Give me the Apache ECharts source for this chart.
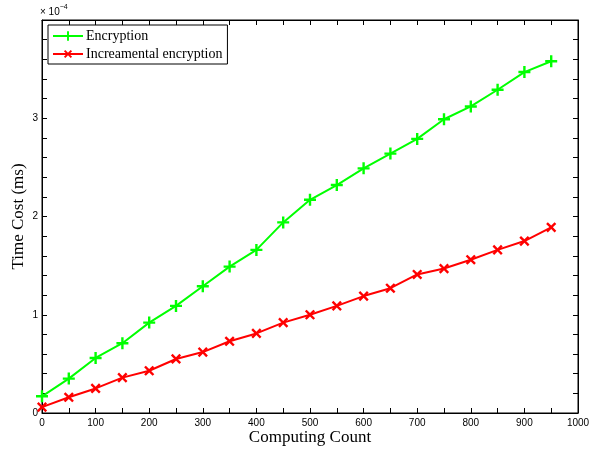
<!DOCTYPE html>
<html><head><meta charset="utf-8">
<script src="https://cdn.jsdelivr.net/npm/echarts@6/dist/echarts.min.js"></script>
<style>html,body{margin:0;padding:0;background:#fff}#c{width:601px;height:450px}</style>
</head><body><div id="c"></div>
<script>
// values in units of 1e-4 ms
const counts = [0,50,100,150,200,250,300,350,400,450,500,550,600,650,700,750,800,850,900,950];
const encryption = [0.17,0.35,0.56,0.71,0.92,1.09,1.29,1.49,1.66,1.94,2.17,2.32,2.49,2.64,2.79,2.99,3.12,3.29,3.47,3.58];
const incremental = [0.06,0.16,0.25,0.36,0.43,0.55,0.62,0.73,0.81,0.92,1.00,1.09,1.19,1.27,1.41,1.47,1.56,1.66,1.75,1.89];
const seriesNames = ['Encryption','Increamental encryption'];

const plusPath = 'path://M4,0h2v4h4v2h-4v4h-2v-4h-4v-2h4z';
const serif = '"Liberation Serif","DejaVu Serif",serif';
const sans = '"Liberation Sans",Arial,sans-serif';

const chart = echarts.init(document.getElementById('c'));
const axisCommon = {
  axisLine:{show:true,onZero:false,lineStyle:{color:'#000',width:1}},
  axisTick:{show:true,inside:true,length:5,lineStyle:{color:'#000'}},
  splitLine:{show:false}
};
chart.setOption({
  animation:false,
  grid:{left:42,right:23,top:20,bottom:37,show:true,borderColor:'#000',borderWidth:1,
    containLabel:false,outerBoundsMode:'none'},
  legend:{
    orient:'vertical',left:48,top:25,
    data:seriesNames,
    backgroundColor:'#fff',borderColor:'#000',borderWidth:1,
    padding:[4,5,3,4],itemGap:4,itemWidth:30,itemHeight:12,
    textStyle:{fontFamily:serif,fontSize:14,color:'#000',padding:[0,0,0,-2]}
  },
  xAxis:[
    Object.assign({type:'value',min:0,max:1000,interval:50,position:'bottom',
      axisLabel:{fontFamily:sans,fontSize:10,color:'#000',margin:5,
        formatter:v=> v%100===0 ? String(v) : ''},
      name:'Computing Count',nameLocation:'middle',nameGap:16,nameMoveOverlap:false,
      nameTextStyle:{fontFamily:serif,fontSize:17,color:'#000'}},axisCommon),
    Object.assign({type:'value',min:0,max:1000,interval:50,position:'top',
      axisLabel:{show:false}},axisCommon)
  ],
  yAxis:[
    Object.assign({type:'value',min:0,max:4,interval:0.2,position:'left',
      axisLabel:{fontFamily:sans,fontSize:10,color:'#000',margin:4,
        formatter:v=> (Math.abs(v-Math.round(v))<1e-6 && v<4) ? String(Math.round(v)) : ''},
      name:'Time Cost (ms)',nameLocation:'middle',nameGap:15,nameMoveOverlap:false,
      nameTextStyle:{fontFamily:serif,fontSize:17,color:'#000'}},axisCommon),
    Object.assign({type:'value',min:0,max:4,interval:0.2,position:'right',
      axisLabel:{show:false}},axisCommon)
  ],
  graphic:[{
    type:'text',left:40,top:4,
    style:{
      text:'{a|× 10}{b|−4}',
      rich:{a:{fontFamily:sans,fontSize:10,fill:'#000',verticalAlign:'bottom'},
            b:{fontFamily:sans,fontSize:7,fill:'#000',verticalAlign:'top',padding:[0,0,6,0]}}
    }
  }],
  series:[
    {name:seriesNames[0],type:'line',data:counts.map((c,i)=>[c,encryption[i]]),
      symbol:plusPath,symbolSize:12,
      lineStyle:{color:'#00ff00',width:2},itemStyle:{color:'#00ff00'}},
    {name:seriesNames[1],type:'line',data:counts.map((c,i)=>[c,incremental[i]]),
      symbol:plusPath,symbolSize:12,symbolRotate:45,
      lineStyle:{color:'#ff0000',width:2},itemStyle:{color:'#ff0000'}}
  ]
});
</script></body></html>
